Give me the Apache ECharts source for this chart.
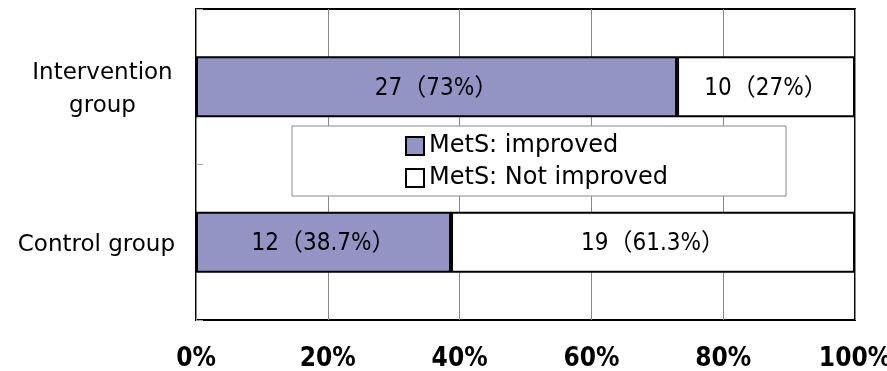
<!DOCTYPE html>
<html>
<head>
<meta charset="utf-8">
<script src="https://cdn.jsdelivr.net/npm/echarts@6/dist/echarts.min.js"></script>
<style>
html,body{margin:0;padding:0;background:#fff;}
#chart{width:887px;height:371px;}
</style>
</head>
<body>
<div id="chart"></div>
<script>
var categories = ['Intervention\ngroup', 'Control group'];
var seriesNames = ['MetS: improved', 'MetS: Not improved'];
var improvedPct = [73, 38.7];
var notImprovedPct = [27, 61.3];
var improvedN = [27, 12];
var notImprovedN = [10, 19];
var xTicks = [0, 20, 40, 60, 80, 100];

var FONT = '"DejaVu Sans", sans-serif';
var NARROW = '"Liberation Sans Narrow", "DejaVu Sans Condensed", "Noto Sans CJK JP", sans-serif';
var chart = echarts.init(document.getElementById('chart'), null, {renderer: 'canvas'});

function lbl(nArr, pArr) {
  return function (p) { return nArr[p.dataIndex] + '（' + pArr[p.dataIndex] + '%）'; };
}

chart.setOption({
  animation: false,
  backgroundColor: '#ffffff',
  grid: {left: 196, right: 32, top: 9, bottom: 51, show: true, borderColor: '#000', borderWidth: 2, containLabel: false, outerBoundsMode: 'none'},
  legend: {
    orient: 'vertical', left: 292, top: 126,
    padding: [7, 118, 5, 113],
    backgroundColor: '#fff', borderColor: '#888', borderWidth: 1,
    itemWidth: 18, itemHeight: 18, itemGap: 6, icon: 'rect',
    textStyle: {fontFamily: FONT, fontSize: 24, color: '#000', lineHeight: 26},
    data: seriesNames
  },
  xAxis: {
    type: 'value', min: 0, max: 100, interval: 20,
    axisLine: {show: false}, axisTick: {show: false},
    splitLine: {show: true, lineStyle: {color: '#888', width: 1}},
    axisLabel: {
      formatter: function (v) { return xTicks.indexOf(v) >= 0 ? v + '%' : ''; },
      fontFamily: NARROW, fontSize: 26, fontWeight: 'bold', color: '#000', margin: 26
    }
  },
  yAxis: {
    type: 'category', inverse: true, data: categories,
    axisLine: {show: false},
    axisTick: {show: true, inside: true, length: 7, lineStyle: {color: '#aaa', width: 1}},
    axisLabel: {
      margin: 21, fontFamily: FONT, fontSize: 23, color: '#000', lineHeight: 33, padding: [6, 0, 0, 0],
      formatter: function (v, i) { return i === 0 ? v.split('\n').map(function (s) { return '{c|' + s + '}'; }).join('\n') : v; },
      rich: {c: {width: 145, align: 'center', fontFamily: FONT, fontSize: 23, color: '#000', lineHeight: 33}}
    }
  },
  series: [
    {
      name: seriesNames[0], type: 'bar', stack: 'total', barWidth: 61, data: improvedPct,
      itemStyle: {color: '#9494c4', borderColor: '#000', borderWidth: 2},
      label: {show: true, position: 'inside', offset: [0, 2], formatter: lbl(improvedN, improvedPct), fontFamily: NARROW, fontSize: 24, color: '#000'}
    },
    {
      name: seriesNames[1], type: 'bar', stack: 'total', barWidth: 61, data: notImprovedPct,
      itemStyle: {color: '#ffffff', borderColor: '#000', borderWidth: 2},
      label: {show: true, position: 'inside', offset: [0, 2], formatter: lbl(notImprovedN, notImprovedPct), fontFamily: NARROW, fontSize: 24, color: '#000'}
    }
  ]
});
</script>
</body>
</html>
